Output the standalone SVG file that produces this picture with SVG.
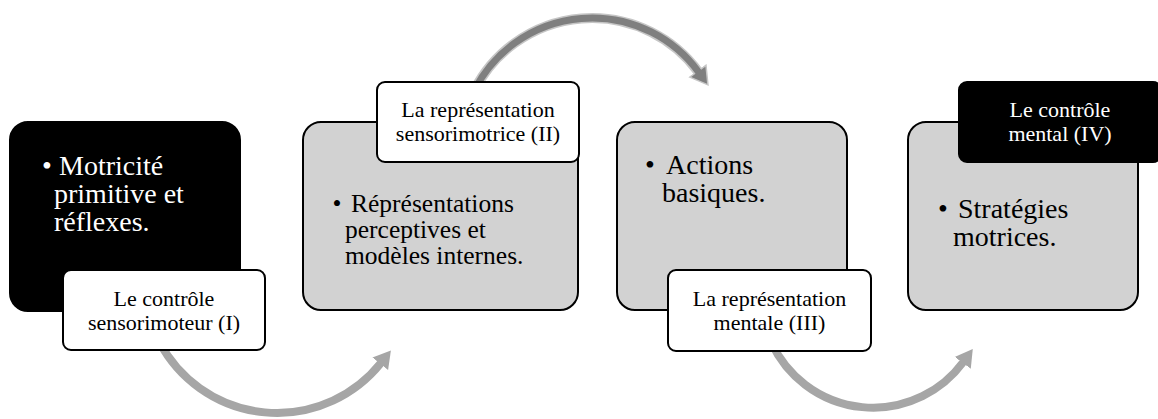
<svg xmlns="http://www.w3.org/2000/svg" width="1158" height="419" viewBox="0 0 1158 419">
<style>
.main{fill:#d2d2d2;stroke:#000;stroke-width:2}
.dark{fill:#000;stroke:#000;stroke-width:2}
.lab{fill:#fff;stroke:#000;stroke-width:2}
.t{font-family:"Liberation Serif","Times New Roman",serif}
.big{font-size:28px}
.mid{font-size:25.5px}
.small{font-size:22px;text-anchor:middle}
.w{fill:#fff}
.k{fill:#000}
.arcL{fill:none;stroke:#a6a6a6;stroke-width:8}
.arcOut{fill:none;stroke:#c6c6c6;stroke-width:10}
.arcIn{fill:none;stroke:#7f7f7f;stroke-width:7}
</style>
<defs>
<marker id="headL" markerUnits="userSpaceOnUse" viewBox="0 -11 18 22" markerWidth="18" markerHeight="22" refX="1" refY="0" orient="auto">
<path d="M0,-10 L17,0 L0,10 z" fill="#a6a6a6"/>
</marker>
<marker id="headD" markerUnits="userSpaceOnUse" viewBox="-1 -12 20 24" markerWidth="20" markerHeight="24" refX="1" refY="0" orient="auto">
<path d="M0,-3.5 L0,-10 L17,0 L0,10 L0,3.5" fill="#7f7f7f" stroke="#c6c6c6" stroke-width="1.5" stroke-linejoin="miter"/>
</marker>
</defs>
<g id="connectors">
<path class="arcL" d="M159.6,342.4 A133,133 0 0 0 380.9,363" marker-end="url(#headL)"/>
<path class="arcOut" d="M474.4,90.1 A132,132 0 0 1 698.5,72"/>
<path class="arcIn" d="M474.4,90.1 A132,132 0 0 1 698.5,72" marker-end="url(#headD)"/>
<path class="arcL" d="M771.7,343.3 A112,112 0 0 0 963.3,362" marker-end="url(#headL)"/>
</g>
<g id="node1">
<rect class="dark" x="10" y="122" width="230" height="189" rx="18"/>
<text class="t big w"><tspan x="42" y="175">•</tspan><tspan x="59" y="175">Motricité</tspan><tspan x="54" y="203">primitive et</tspan><tspan x="54" y="230.5">réflexes.</tspan></text>
<rect class="lab" x="63" y="270" width="202" height="80" rx="8"/>
<text class="t small k"><tspan x="164" y="306">Le contrôle</tspan><tspan x="164" y="330">sensorimoteur (I)</tspan></text>
</g>
<g id="node2">
<rect class="main" x="303" y="122" width="275" height="188" rx="18"/>
<text class="t mid k"><tspan x="332.5" y="211.5">•</tspan><tspan x="351" y="211.5">Réprésentations</tspan><tspan x="345" y="237.5">perceptives et</tspan><tspan x="345" y="263.5">modèles internes.</tspan></text>
<rect class="lab" x="377" y="82" width="202" height="80" rx="8"/>
<text class="t small k"><tspan x="478" y="117">La représentation</tspan><tspan x="478" y="141">sensorimotrice (II)</tspan></text>
</g>
<g id="node3">
<rect class="main" x="617" y="122" width="230" height="188" rx="18"/>
<text class="t big k"><tspan x="645" y="174">•</tspan><tspan x="666" y="174">Actions</tspan><tspan x="662" y="201.5">basiques.</tspan></text>
<rect class="lab" x="668" y="270" width="203" height="81" rx="8"/>
<text class="t small k"><tspan x="769.5" y="306">La représentation</tspan><tspan x="769.5" y="330">mentale (III)</tspan></text>
</g>
<g id="node4">
<rect class="main" x="908" y="122" width="230" height="188" rx="18"/>
<text class="t big k"><tspan x="938" y="218">•</tspan><tspan x="958" y="218">Stratégies</tspan><tspan x="953" y="245.5">motrices.</tspan></text>
<rect class="dark" x="959" y="82" width="202" height="80" rx="8"/>
<text class="t small w"><tspan x="1060" y="117">Le contrôle</tspan><tspan x="1060" y="141">mental (IV)</tspan></text>
</g>
</svg>
